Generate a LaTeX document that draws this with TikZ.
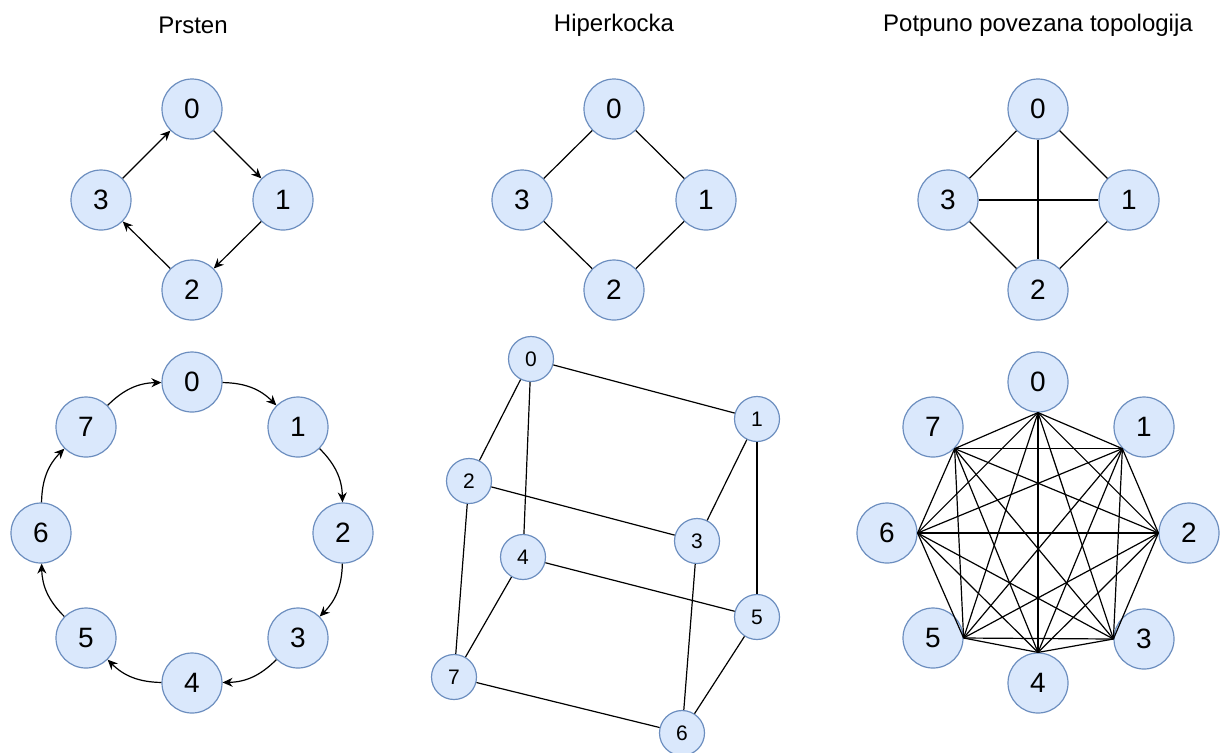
\documentclass[tikz,border=0pt]{standalone}
\usepackage{fontspec}
\setmainfont{Liberation Sans}
\usetikzlibrary{arrows.meta}
\definecolor{nodefill}{HTML}{DAE8FC}
\definecolor{nodeline}{HTML}{6C8EBF}
\tikzset{
  proc/.style={circle, draw=nodeline, fill=nodefill, line width=0.6pt,
    minimum size=30pt, inner sep=0pt, font=\fontsize{14}{16}\selectfont},
  smallproc/.style={proc, minimum size=22.5pt, font=\fontsize{10.5}{12}\selectfont},
  title/.style={font=\fontsize{12}{14}\selectfont},
  link/.style={line width=0.6pt},
  msg/.style={link, -{Stealth[length=5pt,width=4.5pt]}}
}

\begin{document}
\begin{tikzpicture}[x=0.5pt, y=-0.5pt]
    \useasboundingbox (0,0) rectangle (1220,752);

    \node[title] (tring) at (193,25) {Prsten};
    \node[title] (tcube) at (614,25) {Hiperkocka};
    \node[title] (tfull) at (1038,25) {Potpuno povezana topologija};

    % prsten
    \node[proc] (r0) at (192,109) {0};
    \node[proc] (r1) at (283,200) {1};
    \node[proc] (r2) at (192,290) {2};
    \node[proc] (r3) at (101,200) {3};
    \draw[msg] (r0) -- (r1);
    \draw[msg] (r1) -- (r2);
    \draw[msg] (r2) -- (r3);
    \draw[msg] (r3) -- (r0);

    \node[proc] (R0) at (192,382) {0};
    \node[proc] (R1) at (298,427) {1};
    \node[proc] (R2) at (343,533) {2};
    \node[proc] (R3) at (298,638) {3};
    \node[proc] (R4) at (192,683) {4};
    \node[proc] (R5) at (86,638) {5};
    \node[proc] (R6) at (41,533) {6};
    \node[proc] (R7) at (86,427) {7};
    \foreach \a/\b in {0/1,1/2,2/3,3/4,4/5,5/6,6/7,7/0}
      \draw[msg] (R\a) to[bend left=22] (R\b);

    % hiperkocka
    \node[proc] (h0) at (614,109) {0};
    \node[proc] (h1) at (706,200) {1};
    \node[proc] (h2) at (614,290) {2};
    \node[proc] (h3) at (522,200) {3};
    \draw[link] (h0) -- (h1) -- (h2) -- (h3) -- (h0);

    \node[smallproc] (H0) at (531,359) {0};
    \node[smallproc] (H1) at (757,419) {1};
    \node[smallproc] (H2) at (469,481) {2};
    \node[smallproc] (H3) at (697,541) {3};
    \node[smallproc] (H4) at (523,557) {4};
    \node[smallproc] (H5) at (757,617) {5};
    \node[smallproc] (H6) at (682,733) {6};
    \node[smallproc] (H7) at (454,677) {7};
    \foreach \a/\b in {0/1,0/2,0/4,1/3,1/5,2/3,2/7,3/6,4/5,4/7,5/6,7/6}
      \draw[link] (H\a) -- (H\b);

    % potpuno povezana
    \node[proc] (f0) at (1038,109) {0};
    \node[proc] (f1) at (1129,200) {1};
    \node[proc] (f2) at (1038,290) {2};
    \node[proc] (f3) at (948,200) {3};
    \draw[link] (f0) -- (f1) -- (f2) -- (f3) -- (f0);
    \draw[link] (f0) -- (f2);
    \draw[link] (f3) -- (f1);

    \node[proc] (F0) at (1038,382) {0};
    \node[proc] (F1) at (1144,427) {1};
    \node[proc] (F2) at (1189,533) {2};
    \node[proc] (F3) at (1144,639) {3};
    \node[proc] (F4) at (1038,683) {4};
    \node[proc] (F5) at (933,638) {5};
    \node[proc] (F6) at (887,533) {6};
    \node[proc] (F7) at (933,427) {7};
    \coordinate (p0) at (F0.south);
    \coordinate (p1) at (F1.south west);
    \coordinate (p2) at (F2.west);
    \coordinate (p3) at (F3.west);
    \coordinate (p4) at (F4.north);
    \coordinate (p5) at (F5.east);
    \coordinate (p6) at (F6.east);
    \coordinate (p7) at (F7.south east);
    \foreach \i in {0,...,6} {
      \pgfmathtruncatemacro\nxt{\i+1}
      \foreach \j in {\nxt,...,7}
        \draw[link] (p\i) -- (p\j);
    }
\end{tikzpicture}
\end{document}
